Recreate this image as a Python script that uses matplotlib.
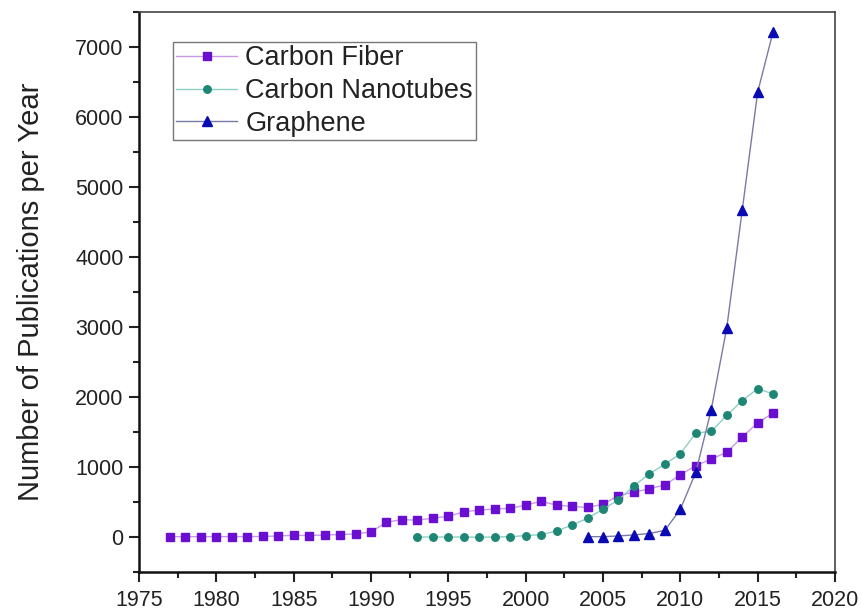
import matplotlib
matplotlib.use("Agg")
import matplotlib.pyplot as plt
from matplotlib.ticker import MultipleLocator

plt.rcParams['font.family'] = ['Liberation Sans', 'DejaVu Sans']

cf_years = list(range(1977, 2017))
cf_values = [5, 5, 5, 5, 5, 5, 8, 15, 25, 20, 30, 35, 45, 72, 210, 250, 240, 270, 295, 360,
             385, 400, 410, 455, 510, 455, 437, 423, 468, 592, 640, 688, 745, 888, 1020, 1112,
             1212, 1427, 1632, 1770]

cnt_years = list(range(1993, 2017))
cnt_values = [0, 0, 0, 0, -3, 0, 5, 20, 35, 85, 172, 267, 396, 530, 730, 903, 1040, 1188,
              1484, 1508, 1737, 1948, 2119, 2043]

gr_years = list(range(2004, 2017))
gr_values = [5, 5, 15, 30, 50, 95, 395, 925, 1820, 2985, 4665, 6355, 7220]

fig = plt.figure(figsize=(8.61, 6.11), dpi=100)
ax = fig.add_axes([0.1614, 0.0638, 0.8084, 0.9166])

ax.plot(cf_years, cf_values, '-', color='#c89ae6', lw=1.0, marker='s', ms=5.2,
        mfc='#6a0fd2', mec='#6a0fd2', label='Carbon Fiber')
ax.plot(cnt_years, cnt_values, '-', color='#8fd0c4', lw=1.0, marker='o', ms=5.4,
        mfc='#1e8674', mec='#1e8674', label='Carbon Nanotubes')
ax.plot(gr_years, gr_values, '-', color='#7a7aa6', lw=1.0, marker='^', ms=6.5,
        mfc='#0a0ab4', mec='#0a0ab4', label='Graphene')

ax.set_xlim(1975, 2020)
ax.set_ylim(-500, 7500)
ax.xaxis.set_major_locator(MultipleLocator(5))
ax.xaxis.set_minor_locator(MultipleLocator(2.5))
ax.yaxis.set_major_locator(MultipleLocator(1000))
ax.yaxis.set_minor_locator(MultipleLocator(500))
ax.tick_params(which='major', direction='out', length=7, width=1.5, labelsize=15.5,
               top=False, right=False, color='#222222', labelcolor='#222222')
ax.tick_params(axis='y', which='major', pad=4)
ax.tick_params(axis='x', which='major', pad=6)
ax.tick_params(which='minor', direction='out', length=4, width=1.5, top=False, right=False,
               color='#222222')
for s in ['left', 'bottom']:
    ax.spines[s].set_linewidth(1.8)
    ax.spines[s].set_color('#111111')
for s in ['top', 'right']:
    ax.spines[s].set_linewidth(1.2)
    ax.spines[s].set_color('#444444')

ax.set_ylabel('Number of Publications per Year', fontsize=21, labelpad=22, color='#222222')

leg = ax.legend(loc='upper left', bbox_to_anchor=(0.0489, 0.9464), fontsize=19.5,
                frameon=True, fancybox=False, edgecolor='#555555', handlelength=2.25,
                borderpad=0.12, labelspacing=0.25, handletextpad=0.3, borderaxespad=0)
leg.get_frame().set_linewidth(1.0)
for t in leg.get_texts():
    t.set_color('#222222')

fig.savefig('out.png', dpi=100)
